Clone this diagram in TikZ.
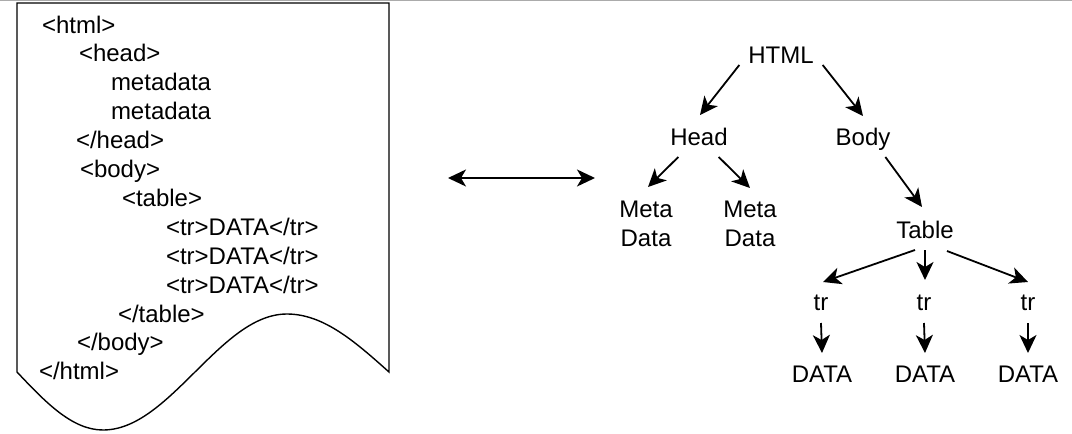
\documentclass[tikz,border=0pt]{standalone}
\usepackage{fontspec}
\setmainfont{Liberation Sans}
\usetikzlibrary{arrows.meta,calc}
\begin{document}
\begin{tikzpicture}[x=1pt,y=-1pt,
  every node/.style={font=\fontsize{24}{29}\selectfont,inner sep=0pt,outer sep=0pt},
  code/.style={anchor=base west},
  tnode/.style={anchor=base,text height=17pt,text depth=5pt},
  arr/.style={line width=1.8pt,-{Stealth[length=18pt,width=17pt,inset=5pt]}},
  dblarr/.style={line width=1.8pt,{Stealth[length=18pt,width=17pt,inset=5pt]}-{Stealth[length=18pt,width=17pt,inset=5pt]}},
  doc/.style={line width=1.4pt,fill=white}]
\useasboundingbox (0,0) rectangle (1072,434);
\fill[white] (0,0) rectangle (1072,434);
\draw[line width=1pt,black!33] (0,0.5) -- (1072,0.5);
% document
\draw[doc] (17,372) -- (17,3) -- (389,3) -- (389,372) sin (287,314) cos (195,372) sin (103,430) cos (17,372) -- cycle;
\node[code] (c1) at (42,33) {<html>};
\node[code] (c2) at (79,61.9) {<head>};
\node[code] (c3) at (111,90.8) {metadata};
\node[code] (c4) at (111,119.7) {metadata};
\node[code] (c5) at (76,148.6) {</head>};
\node[code] (c6) at (80,177.5) {<body>};
\node[code] (c7) at (122,206.4) {<table>};
\node[code] (c8) at (166,235.3) {<tr>DATA</tr>};
\node[code] (c9) at (166,264.2) {<tr>DATA</tr>};
\node[code] (c10) at (166,293.1) {<tr>DATA</tr>};
\node[code] (c11) at (118,322) {</table>};
\node[code] (c12) at (77,350.9) {</body>};
\node[code] (c13) at (39,379.8) {</html>};
% double arrow
\coordinate (dl) at (448,178);
\coordinate (dr) at (595,178);
\draw[dblarr] (dl) -- (dr);
% tree
\node[tnode] (html) at (781,63) {HTML};
\node[tnode] (head) at (699,145) {Head};
\node[tnode] (body) at (863,145) {Body};
\node[tnode] (meta1) at (646,217) {Meta};
\node[tnode] (data1) at (646,246) {Data};
\node[tnode] (meta2) at (750,217) {Meta};
\node[tnode] (data2) at (750,246) {Data};
\node[tnode] (table) at (925,238) {Table};
\node[tnode] (tr1) at (821,310) {tr};
\node[tnode] (tr2) at (924,310) {tr};
\node[tnode] (tr3) at (1028,310) {tr};
\node[tnode] (d1) at (822,382) {DATA};
\node[tnode] (d2) at (925,382) {DATA};
\node[tnode] (d3) at (1028,382) {DATA};
\draw[arr] ($(html.south west)+(-9,-3)$) -- ($(head.north)+(1,-13)$);
\draw[arr] ($(html.south east)+(9,-3)$) -- ($(body.north)+(0,-12)$);
\draw[arr] ($(head.south west)+(8,7)$) -- ($(meta1.north)+(2,-13)$);
\draw[arr] ($(head.south east)+(-9,7)$) -- ($(meta2.north)+(0,-12)$);
\draw[arr] ($(body.south east)+(-5,7)$) -- ($(table.north)+(-3,-14)$);
\draw[arr] ($(table.south)+(-10,7)$) -- ($(tr1.north)+(2,-11)$);
\draw[arr] ($(table.south)+(0,7)$) -- ($(tr2.north)+(1,-13)$);
\draw[arr] ($(table.south)+(22,8)$) -- ($(tr3.north)+(0,-11)$);
\draw[arr] ($(tr1.south)+(0,8)$) -- ($(d1.north)+(0,-12)$);
\draw[arr] ($(tr2.south)+(0,8)$) -- ($(d2.north)+(0,-12)$);
\draw[arr] ($(tr3.south)+(0,8)$) -- ($(d3.north)+(0,-12)$);
\end{tikzpicture}
\end{document}
